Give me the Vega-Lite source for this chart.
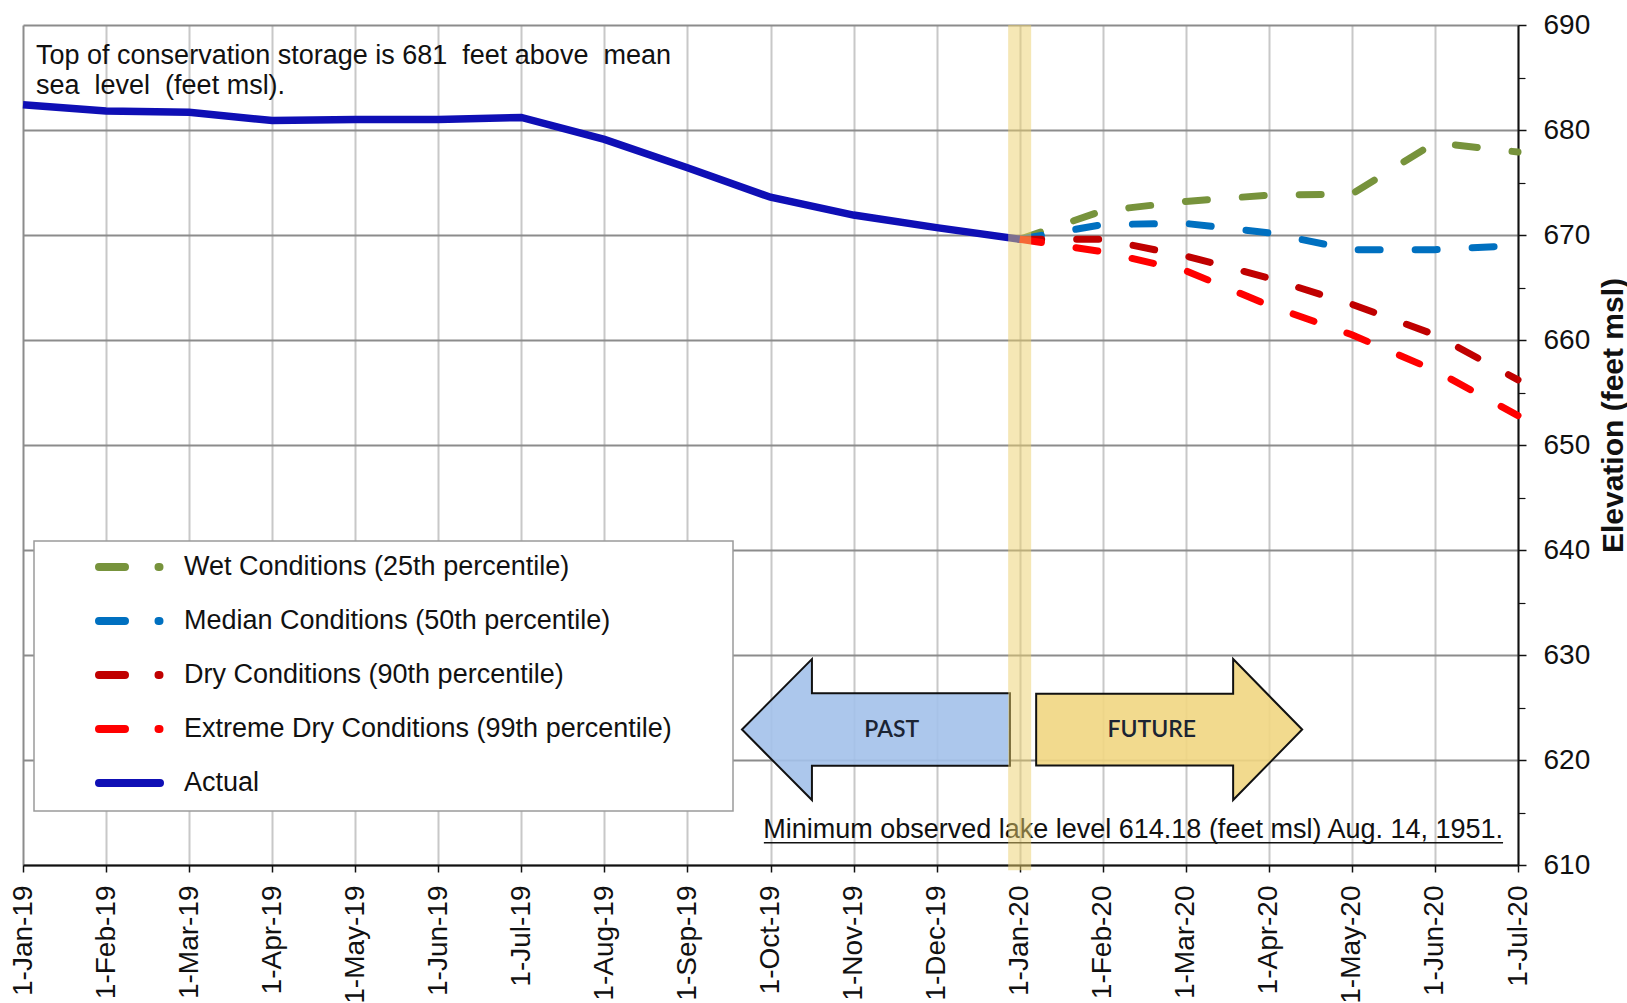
{
  "$schema": "https://vega.github.io/schema/vega-lite/v6.json",
  "width": 1495,
  "height": 840,
  "autosize": {"type": "none"},
  "padding": {"left": 23, "top": 25, "right": 109, "bottom": 138},
  "background": "white",
  "config": {
    "view": {"stroke": null},
    "font": "Liberation Sans",
    "axis": {"labelFont": "Liberation Sans", "titleFont": "Liberation Sans", "labelColor": "#111111", "titleColor": "#111111"}
  },
  "data": {
    "values": [
      {"date": "2019-01-01", "m": 0, "series": "Actual", "elev": 682.4},
      {"date": "2019-02-01", "m": 1, "series": "Actual", "elev": 681.8},
      {"date": "2019-03-01", "m": 2, "series": "Actual", "elev": 681.7},
      {"date": "2019-04-01", "m": 3, "series": "Actual", "elev": 680.9},
      {"date": "2019-05-01", "m": 4, "series": "Actual", "elev": 681.0},
      {"date": "2019-06-01", "m": 5, "series": "Actual", "elev": 681.0},
      {"date": "2019-07-01", "m": 6, "series": "Actual", "elev": 681.2},
      {"date": "2019-08-01", "m": 7, "series": "Actual", "elev": 679.1},
      {"date": "2019-09-01", "m": 8, "series": "Actual", "elev": 676.4},
      {"date": "2019-10-01", "m": 9, "series": "Actual", "elev": 673.6},
      {"date": "2019-11-01", "m": 10, "series": "Actual", "elev": 671.9},
      {"date": "2019-12-01", "m": 11, "series": "Actual", "elev": 670.7},
      {"date": "2020-01-01", "m": 12, "series": "Actual", "elev": 669.6},
      {"date": "2020-01-01", "m": 12, "series": "Wet Conditions (25th percentile)", "elev": 669.6},
      {"date": "2020-02-01", "m": 13, "series": "Wet Conditions (25th percentile)", "elev": 672.3},
      {"date": "2020-03-01", "m": 14, "series": "Wet Conditions (25th percentile)", "elev": 673.2},
      {"date": "2020-04-01", "m": 15, "series": "Wet Conditions (25th percentile)", "elev": 673.8},
      {"date": "2020-05-01", "m": 16, "series": "Wet Conditions (25th percentile)", "elev": 673.9},
      {"date": "2020-06-01", "m": 17, "series": "Wet Conditions (25th percentile)", "elev": 678.8},
      {"date": "2020-07-01", "m": 18, "series": "Wet Conditions (25th percentile)", "elev": 677.9},
      {"date": "2020-01-01", "m": 12, "series": "Median Conditions (50th percentile)", "elev": 669.6},
      {"date": "2020-02-01", "m": 13, "series": "Median Conditions (50th percentile)", "elev": 671.0},
      {"date": "2020-03-01", "m": 14, "series": "Median Conditions (50th percentile)", "elev": 671.1},
      {"date": "2020-04-01", "m": 15, "series": "Median Conditions (50th percentile)", "elev": 670.2},
      {"date": "2020-05-01", "m": 16, "series": "Median Conditions (50th percentile)", "elev": 668.6},
      {"date": "2020-06-01", "m": 17, "series": "Median Conditions (50th percentile)", "elev": 668.6},
      {"date": "2020-07-01", "m": 18, "series": "Median Conditions (50th percentile)", "elev": 669.0},
      {"date": "2020-01-01", "m": 12, "series": "Dry Conditions (90th percentile)", "elev": 669.6},
      {"date": "2020-02-01", "m": 13, "series": "Dry Conditions (90th percentile)", "elev": 669.6},
      {"date": "2020-03-01", "m": 14, "series": "Dry Conditions (90th percentile)", "elev": 668.0},
      {"date": "2020-04-01", "m": 15, "series": "Dry Conditions (90th percentile)", "elev": 665.9},
      {"date": "2020-05-01", "m": 16, "series": "Dry Conditions (90th percentile)", "elev": 663.4},
      {"date": "2020-06-01", "m": 17, "series": "Dry Conditions (90th percentile)", "elev": 660.5},
      {"date": "2020-07-01", "m": 18, "series": "Dry Conditions (90th percentile)", "elev": 656.2},
      {"date": "2020-01-01", "m": 12, "series": "Extreme Dry Conditions (99th percentile)", "elev": 669.6},
      {"date": "2020-02-01", "m": 13, "series": "Extreme Dry Conditions (99th percentile)", "elev": 668.4},
      {"date": "2020-03-01", "m": 14, "series": "Extreme Dry Conditions (99th percentile)", "elev": 666.6},
      {"date": "2020-04-01", "m": 15, "series": "Extreme Dry Conditions (99th percentile)", "elev": 663.3},
      {"date": "2020-05-01", "m": 16, "series": "Extreme Dry Conditions (99th percentile)", "elev": 660.5},
      {"date": "2020-06-01", "m": 17, "series": "Extreme Dry Conditions (99th percentile)", "elev": 657.1},
      {"date": "2020-07-01", "m": 18, "series": "Extreme Dry Conditions (99th percentile)", "elev": 652.8}
    ]
  },
  "layer": [
    {
      "transform": [{"filter": "datum.series !== 'Actual'"}],
      "mark": {"type": "line", "strokeWidth": 7, "strokeDash": [22, 35], "strokeCap": "round"},
      "encoding": {
        "x": {
          "field": "m", "type": "quantitative",
          "scale": {"domain": [0, 18], "nice": false, "zero": false},
          "axis": {
            "values": [0, 1, 2, 3, 4, 5, 6, 7, 8, 9, 10, 11, 12, 13, 14, 15, 16, 17, 18],
            "labelExpr": "['1-Jan-19','1-Feb-19','1-Mar-19','1-Apr-19','1-May-19','1-Jun-19','1-Jul-19','1-Aug-19','1-Sep-19','1-Oct-19','1-Nov-19','1-Dec-19','1-Jan-20','1-Feb-20','1-Mar-20','1-Apr-20','1-May-20','1-Jun-20','1-Jul-20'][datum.value]",
            "labelAngle": 270, "labelFontSize": 28, "labelPadding": 13,
            "labelOverlap": false, "labelFlush": false, "labelBound": false,
            "tickSize": 7, "tickColor": "#111111", "tickWidth": 1.5,
            "domainColor": "#111111", "domainWidth": 2,
            "grid": true, "gridWidth": 2,
            "gridColor": {"condition": {"test": "datum.value === 0", "value": "#8c8c8c"}, "value": "#c8c8c8"},
            "title": null
          }
        },
        "y": {
          "field": "elev", "type": "quantitative",
          "scale": {"domain": [610, 690], "nice": false, "zero": false},
          "axis": {
            "orient": "right",
            "values": [610, 620, 630, 640, 650, 660, 670, 680, 690],
            "labelFontSize": 28, "labelPadding": 17,
            "labelOverlap": false, "labelFlush": false, "labelBound": false,
            "tickSize": 8, "tickColor": "#111111", "tickWidth": 1.5,
            "domainColor": "#111111", "domainWidth": 2,
            "grid": true, "gridColor": "#8c8c8c", "gridWidth": 2,
            "title": "Elevation (feet  msl)", "titleFontSize": 30, "titleFontWeight": "bold",
            "titleAngle": 270, "titleX": 95, "titleY": 390, "titleAlign": "center", "titleBaseline": "middle"
          }
        },
        "color": {
          "field": "series", "type": "nominal",
          "scale": {
            "domain": ["Wet Conditions (25th percentile)", "Median Conditions (50th percentile)", "Dry Conditions (90th percentile)", "Extreme Dry Conditions (99th percentile)", "Actual"],
            "range": ["#77933C", "#0070C0", "#C00000", "#FF0000", "#0F0FB5"]
          },
          "legend": {
            "title": "MM", "titleOrient": "right", "titleColor": "white", "titleFontSize": 27, "titlePadding": 4,
            "orient": "none", "legendX": 11, "legendY": 516, "direction": "vertical",
            "fillColor": "white", "strokeColor": "#9b9b9b", "padding": 12,
            "labelFont": "Liberation Sans", "labelFontSize": 27, "labelColor": "#111111", "labelLimit": 900,
            "labelOffset": 110, "rowPadding": 22, "symbolSize": 400, "symbolStrokeWidth": 8, "symbolOffset": 0,
            "encode": {
              "symbols": {"update": {
                "shape": {"signal": "datum.value === 'Actual' ? 'M 3.9 0 L 10.0 0' : 'M 3.9 0 L 6.5 0 M 9.85 0 L 9.95 0'"},
                "strokeDash": {"value": [1, 0]},
                "strokeWidth": {"value": 8},
                "strokeCap": {"value": "round"},
                "fill": {"value": "transparent"},
                "opacity": {"value": 1}
              }},
              "legend": {"update": {"strokeWidth": {"value": 1.5}}}
            }
          }
        }
      }
    },
    {
      "transform": [{"filter": "datum.series === 'Actual'"}],
      "mark": {"type": "line", "strokeWidth": 7.5, "strokeCap": "butt"},
      "encoding": {
        "x": {"field": "m", "type": "quantitative"},
        "y": {
          "field": "elev", "type": "quantitative",
          "axis": {
            "orient": "right",
            "values": [615, 625, 635, 645, 655, 665, 675, 685],
            "labels": false, "grid": false, "domain": false,
            "ticks": true, "tickSize": 7, "tickColor": "#111111", "tickWidth": 1.2,
            "title": null
          }
        },
        "color": {"field": "series", "type": "nominal", "legend": null}
      }
    },
    {
      "data": {"values": [{}]},
      "mark": {"type": "point", "shape": "M -1 0 L -0.478 -0.526 L -0.478 -0.27 L 1 -0.27 L 1 0.27 L -0.478 0.27 L -0.478 0.526 Z", "size": 71824, "filled": true, "fill": "#A3C1EA", "fillOpacity": 0.9, "stroke": "#111111", "strokeWidth": 2, "opacity": 1},
      "encoding": {
        "x": {"datum": 10.27, "type": "quantitative"},
        "y": {"datum": 622.9, "type": "quantitative", "axis": null}
      }
    },
    {
      "data": {"values": [{}]},
      "mark": {"type": "point", "shape": "M 1 0 L 0.481 -0.53 L 0.481 -0.27 L -1 -0.27 L -1 0.27 L 0.481 0.27 L 0.481 0.53 Z", "size": 70756, "filled": true, "fill": "#F1D682", "fillOpacity": 0.9, "stroke": "#111111", "strokeWidth": 2, "opacity": 1},
      "encoding": {
        "x": {"datum": 13.8, "type": "quantitative"},
        "y": {"datum": 622.9, "type": "quantitative", "axis": null}
      }
    },
    {
      "data": {"values": [{}]},
      "mark": {"type": "text", "text": "PAST", "font": "Lato", "fontSize": 23, "fontWeight": 600, "color": "#1b2433", "align": "center", "baseline": "middle"},
      "encoding": {
        "x": {"datum": 10.46, "type": "quantitative"},
        "y": {"datum": 622.9, "type": "quantitative", "axis": null}
      }
    },
    {
      "data": {"values": [{}]},
      "mark": {"type": "text", "text": "FUTURE", "font": "Lato", "fontSize": 23, "fontWeight": 600, "color": "#1b2433", "align": "center", "baseline": "middle"},
      "encoding": {
        "x": {"datum": 13.59, "type": "quantitative"},
        "y": {"datum": 622.9, "type": "quantitative", "axis": null}
      }
    },
    {
      "data": {"values": [{}]},
      "mark": {"type": "text", "text": ["Top of conservation storage is 681\u00a0 feet above\u00a0 mean", "sea\u00a0 level\u00a0 (feet msl)."], "font": "Liberation Sans", "fontSize": 27, "lineHeight": 30, "color": "#111111", "align": "left", "baseline": "alphabetic"},
      "encoding": {
        "x": {"datum": 0.157, "type": "quantitative"},
        "y": {"datum": 686.29, "type": "quantitative", "axis": null}
      }
    },
    {
      "data": {"values": [{}]},
      "mark": {"type": "text", "text": "Minimum observed lake level 614.18 (feet msl) Aug. 14, 1951.", "font": "Liberation Sans", "fontSize": 27, "color": "#111111", "align": "right", "baseline": "alphabetic"},
      "encoding": {
        "x": {"datum": 17.82, "type": "quantitative"},
        "y": {"datum": 612.57, "type": "quantitative", "axis": null}
      }
    },
    {
      "data": {"values": [{}]},
      "mark": {"type": "rule", "color": "#111111", "strokeWidth": 1.5},
      "encoding": {
        "x": {"datum": 8.92, "type": "quantitative"},
        "x2": {"datum": 17.82},
        "y": {"datum": 612.12, "type": "quantitative", "axis": null}
      }
    },
    {
      "data": {"values": [{}]},
      "mark": {"type": "rule", "color": "#EBCF6B", "opacity": 0.5, "strokeWidth": 23},
      "encoding": {
        "x": {"datum": 12, "type": "quantitative"},
        "y": {"datum": 690, "type": "quantitative", "axis": null},
        "y2": {"datum": 609.5}
      }
    }
  ],
  "resolve": {"axis": {"y": "independent"}}
}
